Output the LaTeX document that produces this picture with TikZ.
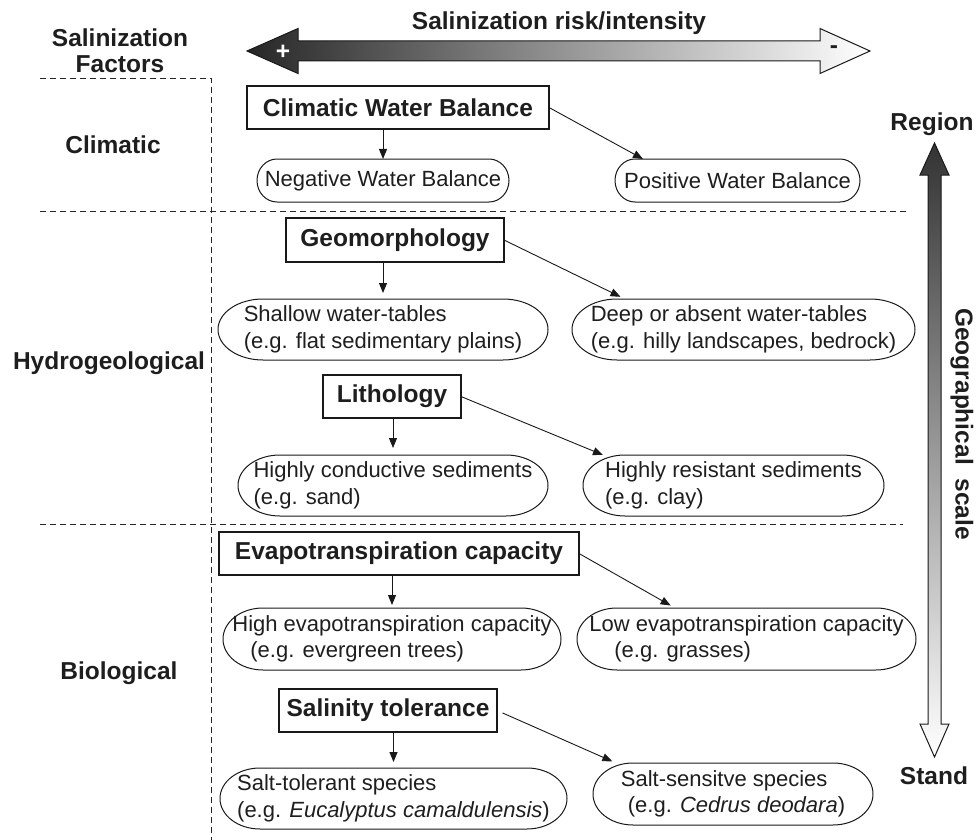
\documentclass[tikz,border=0pt]{standalone}
\usepackage{fontspec}
\setmainfont{Liberation Sans}
\usetikzlibrary{arrows.meta,calc}
\definecolor{txt}{HTML}{1E1E1E}
\newcommand\ovalline[2]{%
  \draw[ovalborder] let \p1=(#1.north), \p2=(#1.south) in
    ([xshift=#2]#1.north west) -- ([xshift=-#2]#1.north east)
    arc[start angle=90,end angle=-90,x radius=#2,y radius={0.5*(\y1-\y2)}]
    -- ([xshift=#2]#1.south west)
    arc[start angle=270,end angle=90,x radius=#2,y radius={0.5*(\y1-\y2)}] -- cycle;}
\tikzset{
  bt/.style={font=\fontsize{24.5}{25.5}\selectfont\bfseries, text=txt},
  box/.style={draw=black!90, line width=1.1pt, inner sep=0pt, outer sep=0pt, bt},
  oval/.style={inner sep=0pt, outer sep=0pt, align=left, font=\fontsize{22}{26.5}\selectfont, text=txt},
  ovalborder/.style={draw=black!90, line width=1pt},
  arr/.style={draw=black!90, line width=0.9pt, -{Triangle[length=10pt,width=8pt]}},
  sep/.style={dash pattern=on 6pt off 4pt, line width=0.9pt, draw=black!85},
}
\begin{document}
\begin{tikzpicture}[x=1pt,y=1pt]
\useasboundingbox (0,0) rectangle (977,-840);

% separators
\draw[sep] (40,-78) -- (211,-78) -- (211,-840);
\draw[sep] (40,-211) -- (907,-211);
\draw[sep] (40,-524) -- (903,-524);

% top title and gradient arrow
\node[bt] (title) at (559,-23) {Salinization risk/intensity};
\coordinate (hL) at (247,-51);
\coordinate (hR) at (870,-51);
\shadedraw[draw=black!90, line width=1pt, left color=black!85, right color=white]
  (hL) -- (298,-28.5) -- (298,-41) -- (820,-41) -- (820,-28.5) -- (hR)
  -- (820,-73.5) -- (820,-61) -- (298,-61) -- (298,-73.5) -- cycle;
\node[bt, text=white] (plus) at (283,-52) {+};
\node[bt] (minus) at (834,-50) {-};

% left labels
\node[bt, align=center] (factors) at (120,-50.5) {Salinization\\Factors};
\node[bt] (climatic) at (113,-145) {Climatic};
\node[bt] (hydro) at (109,-363) {Hydrogeological};
\node[bt] (bio) at (119,-673) {Biological};

% vertical gradient arrow
\coordinate (vT) at (934.5,-143);
\coordinate (vB) at (934.5,-757);
\shadedraw[draw=black!90, line width=1pt, top color=black!80, bottom color=white]
  (vT) -- (949,-175) -- (941,-175) -- (941,-724) -- (949,-724) -- (vB)
  -- (920,-724) -- (928,-724) -- (928,-175) -- (920,-175) -- cycle;
\node[bt] (region) at (932,-124) {Region};
\node[bt] (stand) at (934,-776) {Stand};
\node[bt, rotate=-90] (geo scale) at (962,-424) {Geographical\ \ scale};

% boxes
\node[box, minimum width=302pt, minimum height=43pt] (cwb) at (398,-107.5) {Climatic Water Balance};
\node[box, minimum width=218pt, minimum height=44pt] (geo) at (395,-240) {Geomorphology};
\node[box, minimum width=138pt, minimum height=43pt] (lith) at (392,-396.5) {Lithology};
\node[box, minimum width=360pt, minimum height=43pt] (evapo) at (399,-553.5) {Evapotranspiration capacity};
\node[box, minimum width=218pt, minimum height=43pt] (sal) at (388,-710.5) {Salinity tolerance};

% ovals
\node[oval, minimum width=252pt, minimum height=43pt] (neg) at (383,-180.5) {Negative Water Balance};
\node[oval, minimum width=245pt, minimum height=43pt] (pos) at (737.5,-180.5) {Positive Water Balance};
\node[oval, minimum width=330pt, minimum height=61pt] (shallow) at (383,-329.5) {Shallow water-tables\\(e.g. flat sedimentary plains)};
\node[oval, minimum width=343pt, minimum height=61pt] (deep) at (743.5,-329.5) {Deep or absent water-tables\\(e.g. hilly landscapes, bedrock)};
\node[oval, minimum width=310pt, minimum height=61pt] (cond) at (393,-485.5) {Highly conductive sediments\\(e.g. sand)};
\node[oval, minimum width=301pt, minimum height=61pt] (res) at (733.5,-485.5) {Highly resistant sediments\\(e.g. clay)};
\node[oval, minimum width=338pt, minimum height=62pt] (high) at (392,-639) {High evapotranspiration capacity\\\hspace*{18pt}(e.g. evergreen trees)};
\node[oval, minimum width=339pt, minimum height=62pt] (low) at (746.5,-639) {Low evapotranspiration capacity\\\hspace*{25pt}(e.g. grasses)};
\node[oval, minimum width=347pt, minimum height=61pt] (tol) at (393.5,-798.5) {Salt-tolerant species\\(e.g. \textit{Eucalyptus camaldulensis})};
\node[oval, minimum width=280pt, minimum height=62pt] (sens) at (733,-794) {Salt-sensitve species\\\hspace*{7pt}(e.g. \textit{Cedrus deodara})};

\ovalline{neg}{20pt}
\ovalline{pos}{20pt}
\ovalline{shallow}{45pt}
\ovalline{deep}{45pt}
\ovalline{cond}{42pt}
\ovalline{res}{42pt}
\ovalline{high}{40pt}
\ovalline{low}{40pt}
\ovalline{tol}{40pt}
\ovalline{sens}{40pt}

% connectors
\draw[arr] (cwb.south -| neg.north) -- (neg.north);
\draw[arr] (cwb.east) -- ([xshift=28pt]pos.north west);
\draw[arr, shorten >=6pt] (geo.south -| shallow.north) -- (shallow.north);
\draw[arr, shorten >=5pt] (geo.east) -- ([xshift=53pt]deep.north west);
\draw[arr, shorten >=7pt] (lith.south -| cond.north) -- (cond.north);
\draw[arr] (lith.east) -- ([xshift=20pt]res.north west);
\draw[arr, shorten >=3pt] (evapo.south -| high.north) -- (high.north);
\draw[arr, shorten >=5pt] (evapo.east) -- ([xshift=98pt]low.north west);
\draw[arr, shorten >=6pt] (sal.south -| tol.north) -- (tol.north);
\draw[arr, shorten <=6pt, shorten >=4pt] (sal.east) -- ([xshift=23pt]sens.north west);
\end{tikzpicture}
\end{document}
